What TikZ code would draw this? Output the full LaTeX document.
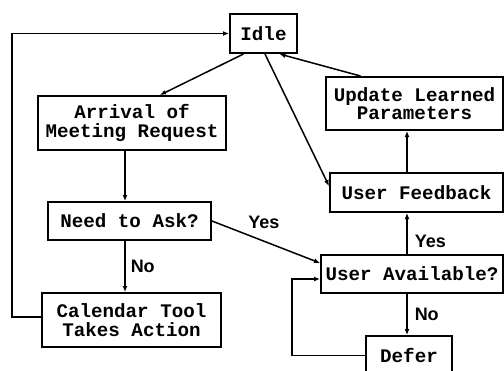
\documentclass[tikz,border=0pt]{standalone}
\usepackage{fontspec}
\setmonofont{Liberation Mono}
\setsansfont{Liberation Sans}
\usetikzlibrary{arrows.meta, positioning, calc}
\tikzset{
  every picture/.style={line width=0.75pt},
  state/.style={draw, line width=1pt, align=center, inner sep=0pt, font=\ttfamily\bfseries\fontsize{9.6}{9.2}\selectfont},
  arrow/.style={-{Latex[length=3pt, width=2.5pt]}},
  answer/.style={font=\sffamily\bfseries\fontsize{9}{10}\selectfont, inner sep=0pt},
}

\begin{document}
\begin{tikzpicture}[x=0.5pt, y=-0.5pt]
  \useasboundingbox (0,0) rectangle (504,370);
  % the states, placed by their centres
  \node[state, minimum width=33.5pt, minimum height=19.5pt] (idle) at (263.5,33.5) {Idle};
  \node[state, minimum width=94pt, minimum height=27pt] (arrival) at (132,123) {Arrival of\\Meeting Request};
  \node[state, minimum width=88.5pt, minimum height=26.5pt] (update) at (414.5,103.5) {Update Learned\\Parameters};
  \node[state, minimum width=86.5pt, minimum height=19.5pt] (feedback) at (416.5,192.5) {User Feedback};
  \node[state, minimum width=81.5pt, minimum height=19pt] (ask) at (129.5,221) {Need to Ask?};
  \node[state, minimum width=91pt, minimum height=19pt] (avail) at (412,274) {User Available?};
  \node[state, minimum width=89.5pt, minimum height=27pt] (cal) at (131.5,320) {Calendar Tool\\Takes Action};
  \node[state, minimum width=43pt, minimum height=19.5pt] (defer) at (409,355.5) {Defer};
  % the two columns the vertical arrows run along
  \coordinate (lcol) at (125,0);
  \coordinate (rcol) at (407,0);
  % transitions
  \draw[arrow] ([xshift=-10pt]idle.south) -- ([xshift=14pt]arrival.north);
  \draw[arrow] ([xshift=0.75pt]idle.south) -- ([yshift=3.25pt]feedback.west);
  \draw[arrow] ([xshift=-27pt]update.north) -- ([xshift=8pt]idle.south);
  \draw[arrow] (arrival.south -| lcol) -- (ask.north -| lcol);
  \draw[arrow] (ask.south -| lcol) -- node[answer, right=2.5pt] {No} (cal.north -| lcol);
  \draw[arrow] (ask.east) -- node[answer, above=6pt, pos=0.48] {Yes} ([yshift=5.5pt]avail.west);
  \draw[arrow] (avail.north -| rcol) -- node[answer, right=3.5pt, pos=0.3] {Yes} (feedback.south -| rcol);
  \draw[arrow] (feedback.north -| rcol) -- (update.south -| rcol);
  \draw[arrow] (avail.south -| rcol) -- node[answer, right=3.5pt] {No} (defer.north -| rcol);
  % loops back
  \draw[arrow] ([yshift=1.5pt]cal.west) -- ++(-29,0) |- (idle.west);
  \draw[arrow] (defer.west) -- ++(-73,0) |- ([yshift=-2.5pt]avail.west);
\end{tikzpicture}
\end{document}
